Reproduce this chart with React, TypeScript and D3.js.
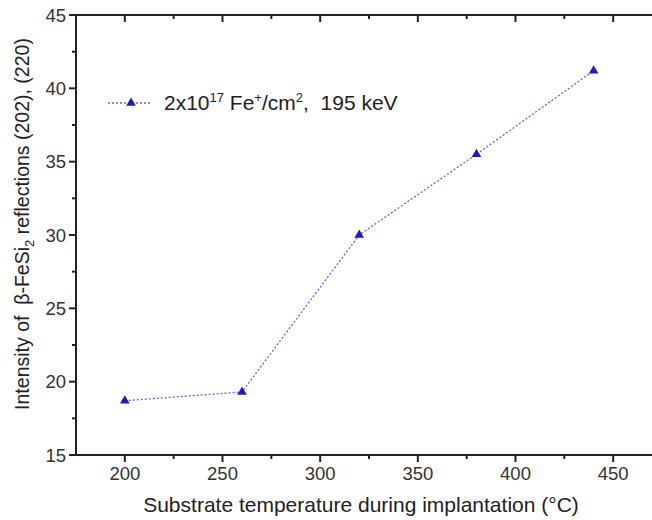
import React from "react";
import * as d3 from "d3";

// substrate temperature (°C) and intensity of beta-FeSi2 reflections
const temps = [200, 260, 320, 380, 440];
const intensity = [18.7, 19.3, 30.0, 35.5, 41.2];
const xTicks = [200, 250, 300, 350, 400, 450];
const xMinor = [225, 275, 325, 375, 425];
const yTicks = [15, 20, 25, 30, 35, 40, 45];
const yMinor = [17.5, 22.5, 27.5, 32.5, 37.5, 42.5];

const W = 652;
const H = 520;
const FONT = "'Liberation Sans', Arial, sans-serif";
const INK = "#222";
const LINE = "#6464e8";
const MARK = "#1a1ac8";

const x = d3.scaleLinear().domain([175, 475]).range([76, 662]);
const y = d3.scaleLinear().domain([15, 45]).range([455, 15]);

export default function App() {
  const line = d3
    .line<number>()
    .x((_, i) => x(temps[i]))
    .y((d) => y(d));
  const tri = d3.symbol(d3.symbolTriangle, 40)() as string;
  const x0 = x(175);
  const yb = y(15);
  const yt = y(45);

  return (
    <div style={{ position: "absolute", left: 0, top: 0, background: "#fff" }}>
      <svg width={W} height={H} style={{ display: "block" }} fontFamily={FONT}>
        {/* frame lines */}
        <g stroke={INK} strokeWidth={2}>
          <line x1={x0} x2={W} y1={yb} y2={yb} />
          <line x1={x0} x2={W} y1={yt} y2={yt} />
          <line x1={x0} x2={x0} y1={yt - 1} y2={yb + 1} />
          {xTicks.map((t) => (
            <g key={"xb" + t}>
              <line x1={x(t)} x2={x(t)} y1={yb} y2={yb + 7} />
              <line x1={x(t)} x2={x(t)} y1={yt} y2={yt + 7} />
            </g>
          ))}
          {xMinor.map((t) => (
            <g key={"xm" + t}>
              <line x1={x(t)} x2={x(t)} y1={yb} y2={yb + 4} />
              <line x1={x(t)} x2={x(t)} y1={yt} y2={yt + 4} />
            </g>
          ))}
          {yTicks.map((t) => (
            <line key={"y" + t} x1={x0 - 7} x2={x0} y1={y(t)} y2={y(t)} />
          ))}
          {yMinor.map((t) => (
            <line key={"ym" + t} x1={x0 - 4} x2={x0} y1={y(t)} y2={y(t)} />
          ))}
        </g>

        {/* tick labels */}
        <g fill="#333" fontSize={18.5}>
          {xTicks.map((t) => (
            <text key={"xl" + t} x={x(t)} y={yb + 25} textAnchor="middle">
              {t}
            </text>
          ))}
          {yTicks.map((t) => (
            <text key={"yl" + t} x={x0 - 10} y={y(t) + 6.5} textAnchor="end">
              {t}
            </text>
          ))}
        </g>

        {/* data */}
        <path
          d={line(intensity) as string}
          fill="none"
          stroke={LINE}
          strokeWidth={1.3}
          strokeDasharray="2,2"
        />
        {intensity.map((v, i) => (
          <path key={"p" + i} d={tri} transform={`translate(${x(temps[i])},${y(v)})`} fill={MARK} />
        ))}

        {/* legend */}
        <line x1={108} x2={152} y1={103} y2={103} stroke={LINE} strokeWidth={1.3} strokeDasharray="2,2" />
        <path d={tri} transform="translate(131,103)" fill={MARK} />
        <text x={164} y={110} fill={INK} fontSize={21}>
          <tspan>2x10</tspan>
          <tspan dy={-8} fontSize={13}>17</tspan>
          <tspan dy={8}> Fe</tspan>
          <tspan dy={-8} fontSize={13}>+</tspan>
          <tspan dy={8}>/cm</tspan>
          <tspan dy={-8} fontSize={13}>2</tspan>
          <tspan dy={8}>{",\u00a0 195 keV"}</tspan>
        </text>

        {/* axis titles */}
        <text x={361} y={512} textAnchor="middle" fill={INK} fontSize={21}>
          Substrate temperature during implantation (°C)
        </text>
        <text transform="translate(29,224) rotate(-90)" textAnchor="middle" fill={INK} fontSize={19.5}>
          <tspan>{"Intensity of \u00a0\u03b2-FeSi"}</tspan>
          <tspan dy={5} fontSize={13}>2</tspan>
          <tspan dy={-5}> reflections (202), (220)</tspan>
        </text>
      </svg>
    </div>
  );
}
